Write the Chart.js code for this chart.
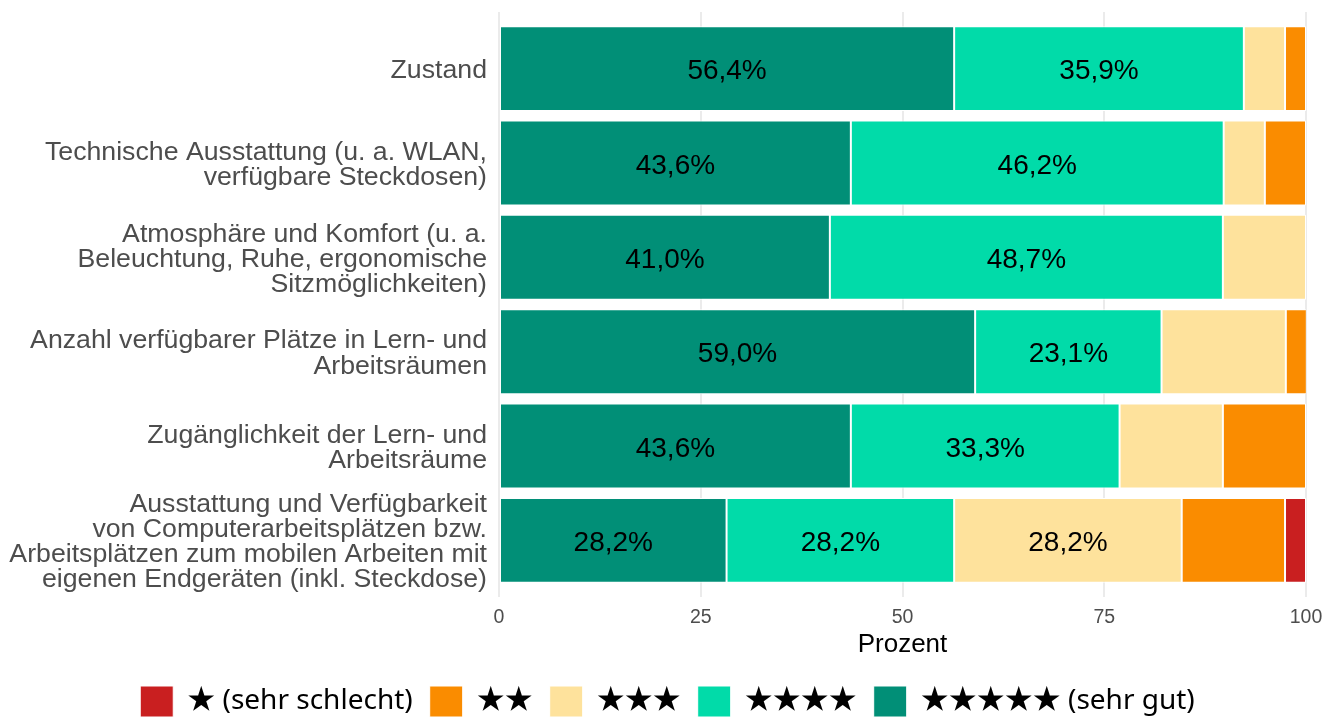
<!DOCTYPE html>
<html>
<head>
<meta charset="utf-8">
<script src="https://cdn.jsdelivr.net/npm/chart.js@4/dist/chart.umd.min.js"></script>
<style>
  html, body { margin: 0; padding: 0; background: #ffffff; overflow: hidden; }
  #wrap { width: 1328px; height: 727px; overflow: hidden; }
</style>
</head>
<body>
<div id="wrap"><canvas id="c" width="1328" height="727"></canvas></div>
<script>
// ---- data ----
const categories = [
  ["Zustand"],
  ["Technische Ausstattung (u. a. WLAN,", "verfügbare Steckdosen)"],
  ["Atmosphäre und Komfort (u. a.", "Beleuchtung, Ruhe, ergonomische", "Sitzmöglichkeiten)"],
  ["Anzahl verfügbarer Plätze in Lern- und", "Arbeitsräumen"],
  ["Zugänglichkeit der Lern- und", "Arbeitsräume"],
  ["Ausstattung und Verfügbarkeit", "von Computerarbeitsplätzen bzw.", "Arbeitsplätzen zum mobilen Arbeiten mit", "eigenen Endgeräten (inkl. Steckdose)"]
];
const seriesNames = ["★★★★★ (sehr gut)", "★★★★", "★★★", "★★", "★ (sehr schlecht)"];
const fiveStars = [56.4, 43.6, 41.0, 59.0, 43.6, 28.2];
const fourStars = [35.9, 46.2, 48.7, 23.1, 33.3, 28.2];
const threeStars = [5.1, 5.1, 10.3, 15.4, 12.8, 28.2];
const twoStars = [2.6, 5.1, 0, 2.6, 10.3, 12.8];
const oneStar = [0, 0, 0, 0, 0, 2.6];
const seriesColors = ["#018F77", "#01DBA9", "#FEE29C", "#FA8C00", "#C91F20"];
const xTicks = [0, 25, 50, 75, 100];
const labelThreshold = 20;

const seriesValues = [fiveStars, fourStars, threeStars, twoStars, oneStar];

const datasets = seriesValues.map((vals, s) => ({
  label: seriesNames[s],
  data: vals.map((v, i) => ({ x: v, y: i + 1 })),
  backgroundColor: seriesColors[s],
  borderColor: "#ffffff",
  borderWidth: 1,
  borderSkipped: false,
  stack: "all",
  categoryPercentage: 0.9,
  barPercentage: 1.0
}));

const valueLabels = {
  id: "valueLabels",
  afterDatasetsDraw(chart) {
    const ctx = chart.ctx;
    ctx.save();
    ctx.font = '28px "Liberation Sans", Arial, sans-serif';
    ctx.fillStyle = "#000000";
    ctx.textAlign = "center";
    ctx.textBaseline = "middle";
    chart.data.datasets.forEach((ds, di) => {
      const meta = chart.getDatasetMeta(di);
      meta.data.forEach((el, i) => {
        const v = ds.data[i].x;
        if (v >= labelThreshold) {
          const txt = v.toFixed(1).replace(".", ",") + "%";
          ctx.fillText(txt, (el.x + el.base) / 2, el.y + 3);
        }
      });
    });
    ctx.restore();
  }
};

new Chart(document.getElementById("c"), {
  type: "bar",
  data: { datasets },
  plugins: [valueLabels],
  options: {
    indexAxis: "y",
    responsive: false,
    animation: false,
    devicePixelRatio: 1,
    layout: { padding: { top: 12, right: 0, left: 7, bottom: 0 } },
    plugins: {
      tooltip: { enabled: false },
      legend: {
        position: "bottom",
        reverse: true,
        labels: {
          boxWidth: 33,
          boxHeight: 31,
          padding: 17,
          color: "#000000",
          font: { family: '"Noto Sans", "Noto Sans CJK JP"', size: 28 }
        }
      }
    },
    scales: {
      x: {
        type: "linear",
        min: 0,
        max: 100,
        stacked: true,
        afterBuildTicks: (s) => { s.ticks = xTicks.map(v => ({ value: v })); },
        afterFit: (s) => { s.height = 72; s.paddingLeft = 0; s.paddingRight = 0; },
        grid: { color: "#EBEBEB", lineWidth: 2, drawTicks: false },
        border: { display: false },
        ticks: {
          padding: 9,
          color: "#4D4D4D",
          font: { family: '"Liberation Sans"', size: 19.5 }
        },
        title: {
          display: true,
          text: "Prozent",
          color: "#000000",
          font: { family: '"Liberation Sans"', size: 26, lineHeight: 1 },
          padding: { top: 0, bottom: 11 }
        }
      },
      y: {
        type: "linear",
        min: 0.4,
        max: 6.6,
        reverse: true,
        offset: false,
        afterBuildTicks: (s) => { s.ticks = categories.map((_, i) => ({ value: i + 1 })); },
        afterFit: (s) => { s.width = 492; s.paddingTop = 0; s.paddingBottom = 0; },
        grid: { display: false, drawTicks: false, offset: false },
        border: { display: false },
        ticks: {
          padding: 12,
          labelOffset: 2,
          color: "#4D4D4D",
          autoSkip: false,
          font: { family: '"Liberation Sans"', size: 26.7, lineHeight: 0.94 },
          callback: (v) => categories[v - 1] || ""
        }
      },
      yRight: {
        type: "linear",
        axis: "y",
        position: "right",
        display: true,
        afterFit: (s) => { s.width = 22; s.paddingTop = 0; s.paddingBottom = 0; },
        grid: { display: false, drawTicks: false },
        border: { display: false },
        ticks: { display: false }
      }
    }
  }
});
</script>
</body>
</html>
